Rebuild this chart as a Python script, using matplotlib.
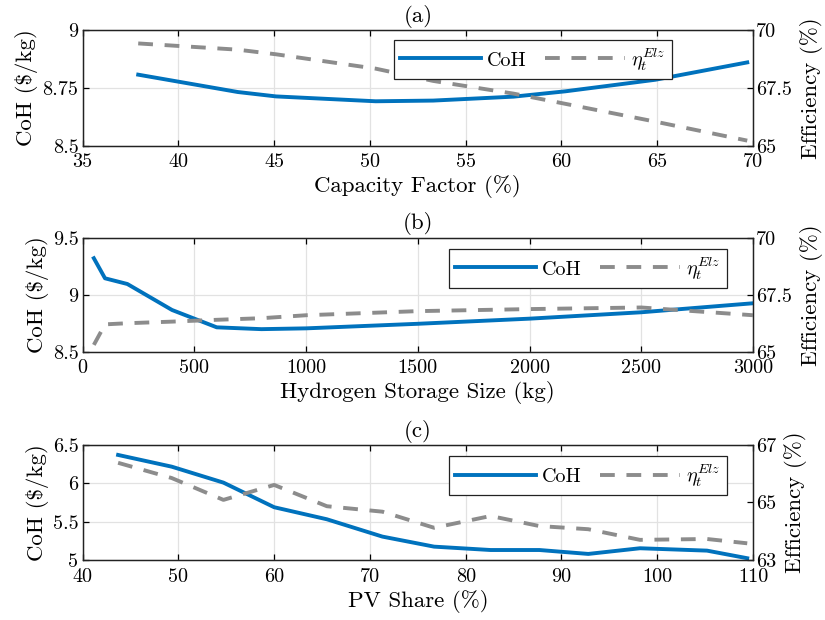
import numpy as np
import matplotlib
matplotlib.use("Agg")
import matplotlib.pyplot as plt

plt.rcParams['font.family'] = ['cmr10', 'DejaVu Serif']
plt.rcParams['mathtext.fontset'] = 'cm'
plt.rcParams['axes.formatter.use_mathtext'] = True
plt.rcParams['axes.unicode_minus'] = False

BLUE = '#0072BD'
GREY = '#8c8c8c'
GRID = '#e2e2e2'

# (a) capacity factor sweep
cf_x = [37.9, 43.1, 45.1, 50.3, 53.3, 57.5, 60.2, 64.9, 69.7]
cf_coh = [8.807, 8.732, 8.713, 8.692, 8.695, 8.712, 8.735, 8.785, 8.86]
cf_eff = [69.42, 69.15, 68.95, 68.33, 67.8, 67.25, 66.81, 66.04, 65.22]

# (b) hydrogen storage sweep
hs_x = [50, 100, 200, 400, 600, 800, 1000, 1500, 2000, 2500, 3000]
hs_coh = [9.32, 9.144, 9.094, 8.866, 8.714, 8.698, 8.705, 8.745, 8.79, 8.846, 8.925]
hs_eff = [65.3, 66.2, 66.25, 66.32, 66.4, 66.47, 66.6, 66.78, 66.87, 66.94, 66.6]

# (c) PV share sweep
pv_x = [43.7, 49.3, 54.7, 60.0, 65.5, 71.3, 76.7, 82.6, 87.7, 92.8, 98.2, 105.2, 109.4]
pv_coh = [6.37, 6.217, 6.009, 5.688, 5.531, 5.305, 5.174, 5.13, 5.13, 5.079, 5.153, 5.122, 5.023]
pv_eff = [66.38, 65.85, 65.09, 65.61, 64.87, 64.68, 64.12, 64.53, 64.18, 64.07, 63.70, 63.73, 63.58]

panels = [
    dict(title='(a)', xlabel='Capacity Factor (%)', x=cf_x, coh=cf_coh, eff=cf_eff,
         xlim=(35, 70), xticks=[35, 40, 45, 50, 55, 60, 65, 70],
         ylim=(8.5, 9), yticks=[8.5, 8.75, 9], yticklabels=['8.5', '8.75', '9'],
         rlim=(65, 70), rticks=[65, 67.5, 70], rticklabels=['65', '67.5', '70'],
         pos=[0.1002, 0.7650, 0.8125, 0.1866], leg=(0.465, 0.914)),
    dict(title='(b)', xlabel='Hydrogen Storage Size (kg)', x=hs_x, coh=hs_coh, eff=hs_eff,
         xlim=(0, 3000), xticks=[0, 500, 1000, 1500, 2000, 2500, 3000],
         ylim=(8.5, 9.5), yticks=[8.5, 9, 9.5], yticklabels=['8.5', '9', '9.5'],
         rlim=(65, 70), rticks=[65, 67.5, 70], rticklabels=['65', '67.5', '70'],
         pos=[0.1002, 0.4327, 0.8125, 0.1839], leg=(0.547, 0.901)),
    dict(title='(c)', xlabel='PV Share (%)', x=pv_x, coh=pv_coh, eff=pv_eff,
         xlim=(40, 110), xticks=[40, 50, 60, 70, 80, 90, 100, 110],
         ylim=(5, 6.5), yticks=[5, 5.5, 6, 6.5], yticklabels=['5', '5.5', '6', '6.5'],
         rlim=(63, 67), rticks=[63, 65, 67], rticklabels=['63', '65', '67'],
         pos=[0.1002, 0.0968, 0.8125, 0.1855], leg=(0.547, 0.904)),
]

fig = plt.figure(figsize=(8.25, 6.2), dpi=100)

for p in panels:
    ax = fig.add_axes(p['pos'])
    ax2 = ax.twinx()

    l1, = ax.plot(p['x'], p['coh'], color=BLUE, lw=2.8, solid_joinstyle='round')
    l2, = ax2.plot(p['x'], p['eff'], color=GREY, lw=2.8, linestyle=(0, (3.8, 3.0)))

    ax.set_xlim(p['xlim'])
    ax.set_ylim(p['ylim'])
    ax2.set_ylim(p['rlim'])
    ax.set_xticks(p['xticks'])
    ax.set_xticklabels([str(v) for v in p['xticks']])
    ax.set_yticks(p['yticks'])
    ax.set_yticklabels(p['yticklabels'])
    ax2.set_yticks(p['rticks'])
    ax2.set_yticklabels(p['rticklabels'])

    ax.grid(True, color=GRID, lw=0.9)
    ax.set_axisbelow(True)
    ax.tick_params(axis='x', direction='in', top=True, length=4, width=0.9, labelsize=14.5, pad=5.5)
    ax.tick_params(axis='y', direction='in', right=False, length=4, width=0.9, labelsize=14.5, pad=3)
    ax2.tick_params(axis='y', direction='in', length=4, width=0.9, labelsize=14.5, pad=2)
    for a in (ax, ax2):
        for s in a.spines.values():
            s.set_linewidth(0.9)
            s.set_color('#222222')

    ax.set_xlabel(p['xlabel'], fontsize=16.5, labelpad=3)
    ax.set_ylabel(r'CoH (\$/kg)', fontsize=16.5, labelpad=3)
    ax2.set_ylabel('Efficiency (%)', fontsize=16.5, labelpad=6)
    ax.set_title(p['title'], fontsize=16.5, pad=6)

    leg = ax2.legend([l1, l2], ['CoH', r'$\eta_t^{Elz}$'], ncol=2, loc='upper left',
                     bbox_to_anchor=p['leg'], borderaxespad=0, fontsize=14.5,
                     handlelength=4.0, columnspacing=0.9, handletextpad=0.3,
                     borderpad=0.3, fancybox=False, framealpha=1, edgecolor='#222222')
    leg.get_frame().set_linewidth(0.9)

fig.savefig('out.png', dpi=100)
